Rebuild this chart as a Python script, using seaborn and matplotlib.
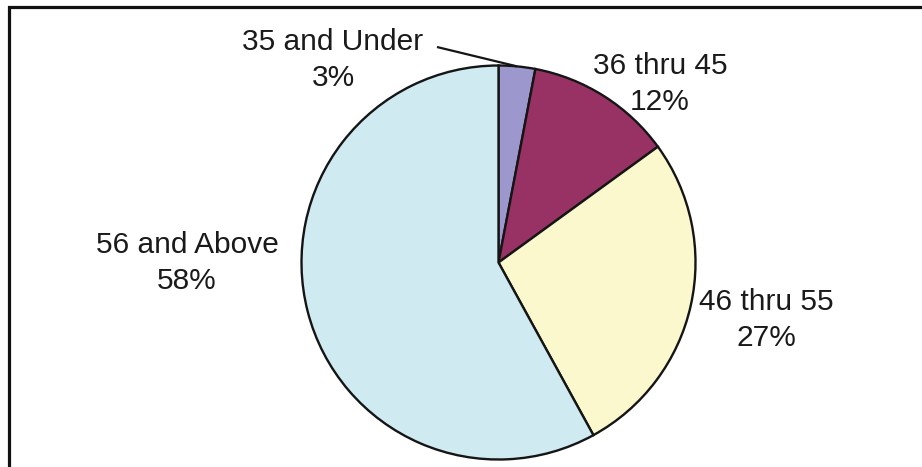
import numpy as np
import matplotlib
matplotlib.use("Agg")
import matplotlib.pyplot as plt
import seaborn as sns
from matplotlib.patches import Rectangle

# Age-group shares (percent)
age_groups = ["35 and Under", "36 thru 45", "46 thru 55", "56 and Above"]
shares = [3, 12, 27, 58]
slice_colors = ["#9C97CC", "#993264", "#FAF8CC", "#CFEBF1"]

sns.set_theme(style="white")
plt.rcParams["font.family"] = ["Liberation Sans", "DejaVu Sans"]

W, H = 922, 467
fig = plt.figure(figsize=(W / 100, H / 100), dpi=100)
fig.patch.set_facecolor("white")

# Pie centre and radius in pixels
cx, cy, r = 498.5, 262.5, 197.0
ax = fig.add_axes([(cx - r) / W, (H - cy - r) / H, 2 * r / W, 2 * r / H])

wedges, _ = ax.pie(
    shares,
    colors=slice_colors,
    startangle=90,
    counterclock=False,
    radius=1.0,
    wedgeprops=dict(edgecolor="#151515", linewidth=1.7),
)
ax.set_xlim(-1, 1)
ax.set_ylim(-1, 1)
ax.set_aspect("equal")
ax.axis("off")


def px(x, y):
    """Convert pixel position to the pie's data coordinates."""
    return (x - cx) / r, (cy - y) / r


label_pos = {
    "35 and Under": (333, 60),
    "36 thru 45": (660, 84),
    "46 thru 55": (766, 320),
    "56 and Above": (187, 263),
}

for name, pct in zip(age_groups, shares):
    lx, ly = px(*label_pos[name])
    ax.text(lx, ly, f"{name}\n{pct}%", ha="center", va="center",
            multialignment="center", fontsize=21.5, color="#1a1a1a",
            linespacing=1.36, clip_on=False)

# Leader line from the smallest slice's label to its rim midpoint
w0 = wedges[0]
mid = np.deg2rad((w0.theta1 + w0.theta2) / 2)
sx, sy = px(437, 47)
ax.plot([sx, np.cos(mid)], [sy, np.sin(mid)], color="#151515", lw=1.6,
        clip_on=False, solid_capstyle="butt")

# Frame around the chart area (runs past the right and bottom edges)
fig.patches.append(Rectangle((8.5 / W, -0.1), 1.2, (H - 7) / H + 0.1,
                             transform=fig.transFigure, fill=False,
                             edgecolor="#111111", linewidth=2.3))

fig.savefig("out.png", dpi=100)
